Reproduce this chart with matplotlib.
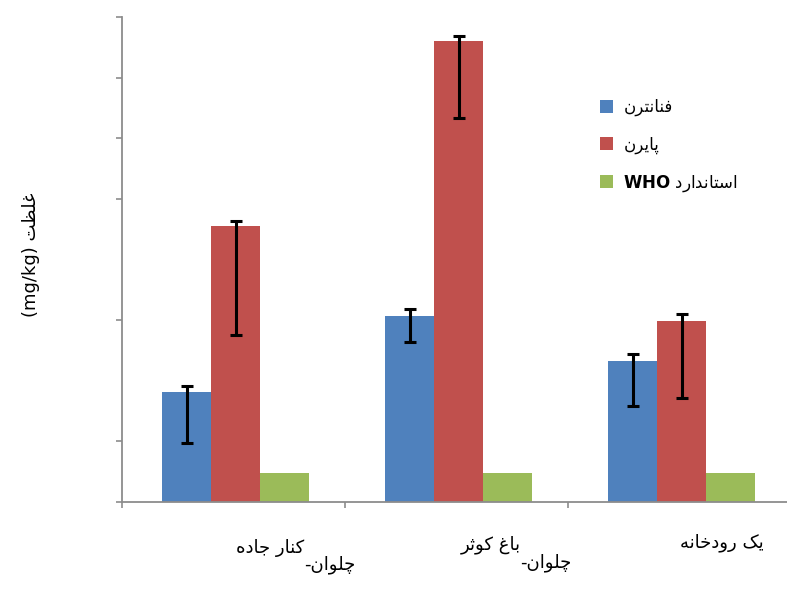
import numpy as np
import matplotlib
matplotlib.use("Agg")
import matplotlib.pyplot as plt

# sampling sites (two-part labels are drawn staggered, split at '-')
sites = ["چلوان-کنار جاده", "چلوان- باغ کوثر", "یک رودخانه"]
series = ["فنانترن", "پایرن", "استاندارد WHO"]

phenanthrene = [1.82, 3.07, 2.33]
phen_err_low = [0.84, 0.43, 0.75]
phen_err_high = [0.09, 0.12, 0.11]

pyrene = [4.55, 7.60, 2.99]
pyr_err_low = [1.79, 1.26, 1.27]
pyr_err_high = [0.09, 0.09, 0.11]

who_standard = [0.48, 0.48, 0.48]

ylabel = "غلظت (mg/kg)"

# --- minimal Arabic/Persian shaping, the Agg renderer has no text layout engine ---
FORMS = {
    # letter: (isolated, final, initial, medial); two entries = right-joining only
    "ا": ("\uFE8D", "\uFE8E"),
    "ب": ("\uFE8F", "\uFE90", "\uFE91", "\uFE92"),
    "ت": ("\uFE95", "\uFE96", "\uFE97", "\uFE98"),
    "ث": ("\uFE99", "\uFE9A", "\uFE9B", "\uFE9C"),
    "ج": ("\uFE9D", "\uFE9E", "\uFE9F", "\uFEA0"),
    "خ": ("\uFEA5", "\uFEA6", "\uFEA7", "\uFEA8"),
    "د": ("\uFEA9", "\uFEAA"),
    "ر": ("\uFEAD", "\uFEAE"),
    "ز": ("\uFEAF", "\uFEB0"),
    "س": ("\uFEB1", "\uFEB2", "\uFEB3", "\uFEB4"),
    "ظ": ("\uFEC5", "\uFEC6", "\uFEC7", "\uFEC8"),
    "غ": ("\uFECD", "\uFECE", "\uFECF", "\uFED0"),
    "ف": ("\uFED1", "\uFED2", "\uFED3", "\uFED4"),
    "ل": ("\uFEDD", "\uFEDE", "\uFEDF", "\uFEE0"),
    "ن": ("\uFEE5", "\uFEE6", "\uFEE7", "\uFEE8"),
    "ه": ("\uFEE9", "\uFEEA", "\uFEEB", "\uFEEC"),
    "و": ("\uFEED", "\uFEEE"),
    "پ": ("\uFB56", "\uFB57", "\uFB58", "\uFB59"),
    "چ": ("\uFB7A", "\uFB7B", "\uFB7C", "\uFB7D"),
    "ک": ("\uFB8E", "\uFB8F", "\uFB90", "\uFB91"),
    "ی": ("\uFBFC", "\uFBFD", "\uFBFE", "\uFBFF"),
}


def shape(word):
    out = []
    for i, ch in enumerate(word):
        f = FORMS.get(ch)
        if f is None:
            out.append(ch)
            continue
        prev = word[i - 1] if i > 0 else ""
        nxt = word[i + 1] if i + 1 < len(word) else ""
        join_prev = prev in FORMS and len(FORMS[prev]) == 4
        join_next = nxt in FORMS and len(f) == 4
        if join_prev and join_next:
            out.append(f[3])
        elif join_prev:
            out.append(f[1])
        elif join_next:
            out.append(f[2])
        else:
            out.append(f[0])
    return "".join(out)


def rtl(s):
    words = []
    for w in s.split(" "):
        if any(ch in FORMS for ch in w):
            words.append(shape(w)[::-1])
        else:
            words.append(w)
    return " ".join(reversed(words))


W, H = 787, 592
fig = plt.figure(figsize=(W / 100, H / 100), dpi=100)
fig.patch.set_facecolor("white")

# left spine at x=122 px, baseline at y=502 px, top of the scale at y=17 px
ax = fig.add_axes([122 / W, (H - 502) / H, 669 / W, 485 / H])

x = np.arange(len(sites))
bw = 0.22
colors = ["#4F81BD", "#C0504D", "#9BBB59"]
err_kw = dict(ecolor="black", elinewidth=2.2, capsize=4.3, capthick=2.2)

legend_labels = [rtl(s).replace("WHO", r"$\mathbf{WHO}$") for s in series]

ax.bar(x - bw + 0.01, phenanthrene, bw, color=colors[0], label=legend_labels[0],
       yerr=[phen_err_low, phen_err_high], error_kw=err_kw)
ax.bar(x + 0.01, pyrene, bw, color=colors[1], label=legend_labels[1],
       yerr=[pyr_err_low, pyr_err_high], error_kw=err_kw)
ax.bar(x + bw + 0.01, who_standard, bw, color=colors[2], label=legend_labels[2])

ax.set_xlim(-0.5, 2.5)
ax.set_ylim(0, 8)
ax.set_yticks([0, 1, 3, 5, 6, 7, 8])
ax.set_yticklabels([])
ax.set_xticks([-0.5, 0.5, 1.5, 2.5])
ax.set_xticklabels([])
ax.tick_params(axis="both", direction="out", length=4, width=1.2, color="#8c8c8c")

for side in ["top", "right"]:
    ax.spines[side].set_visible(False)
for side in ["left", "bottom"]:
    ax.spines[side].set_color("#8c8c8c")
    ax.spines[side].set_linewidth(1.3)

# category labels: tail of the name up-left, "چلوان-" down-right
px = 0.72  # points per pixel at 100 dpi
split_dx = [71, 64, 0]
upper_dy = [-46, -43, -41]
lower_dy = [-63, -61, -61]
for i, label in enumerate(sites):
    if "-" in label:
        head, tail = label.split("-", 1)
        ax.annotate(rtl(tail.strip()), xy=(i, 0), xycoords=("data", "axes fraction"),
                    xytext=(split_dx[i] * px, upper_dy[i] * px), textcoords="offset points",
                    ha="right", va="center", fontsize=13, annotation_clip=False)
        ax.annotate(rtl(head + "-"), xy=(i, 0), xycoords=("data", "axes fraction"),
                    xytext=(split_dx[i] * px, lower_dy[i] * px), textcoords="offset points",
                    ha="left", va="center", fontsize=13, annotation_clip=False)
    else:
        ax.annotate(rtl(label), xy=(i, 0), xycoords=("data", "axes fraction"),
                    xytext=(split_dx[i] * px, upper_dy[i] * px), textcoords="offset points",
                    ha="left", va="center", fontsize=13, annotation_clip=False)

fig.text(31 / W, 1 - 255 / H, rtl(ylabel), rotation=90, ha="center", va="center",
         fontsize=13)

ax.legend(loc="upper left", bbox_to_anchor=(600 / W, 1 - 98 / H),
          bbox_transform=fig.transFigure, frameon=False, fontsize=12,
          handlelength=0.8, handleheight=0.8, handletextpad=0.6,
          labelspacing=1.15, borderpad=0, borderaxespad=0)

fig.savefig("out.png", dpi=100)
